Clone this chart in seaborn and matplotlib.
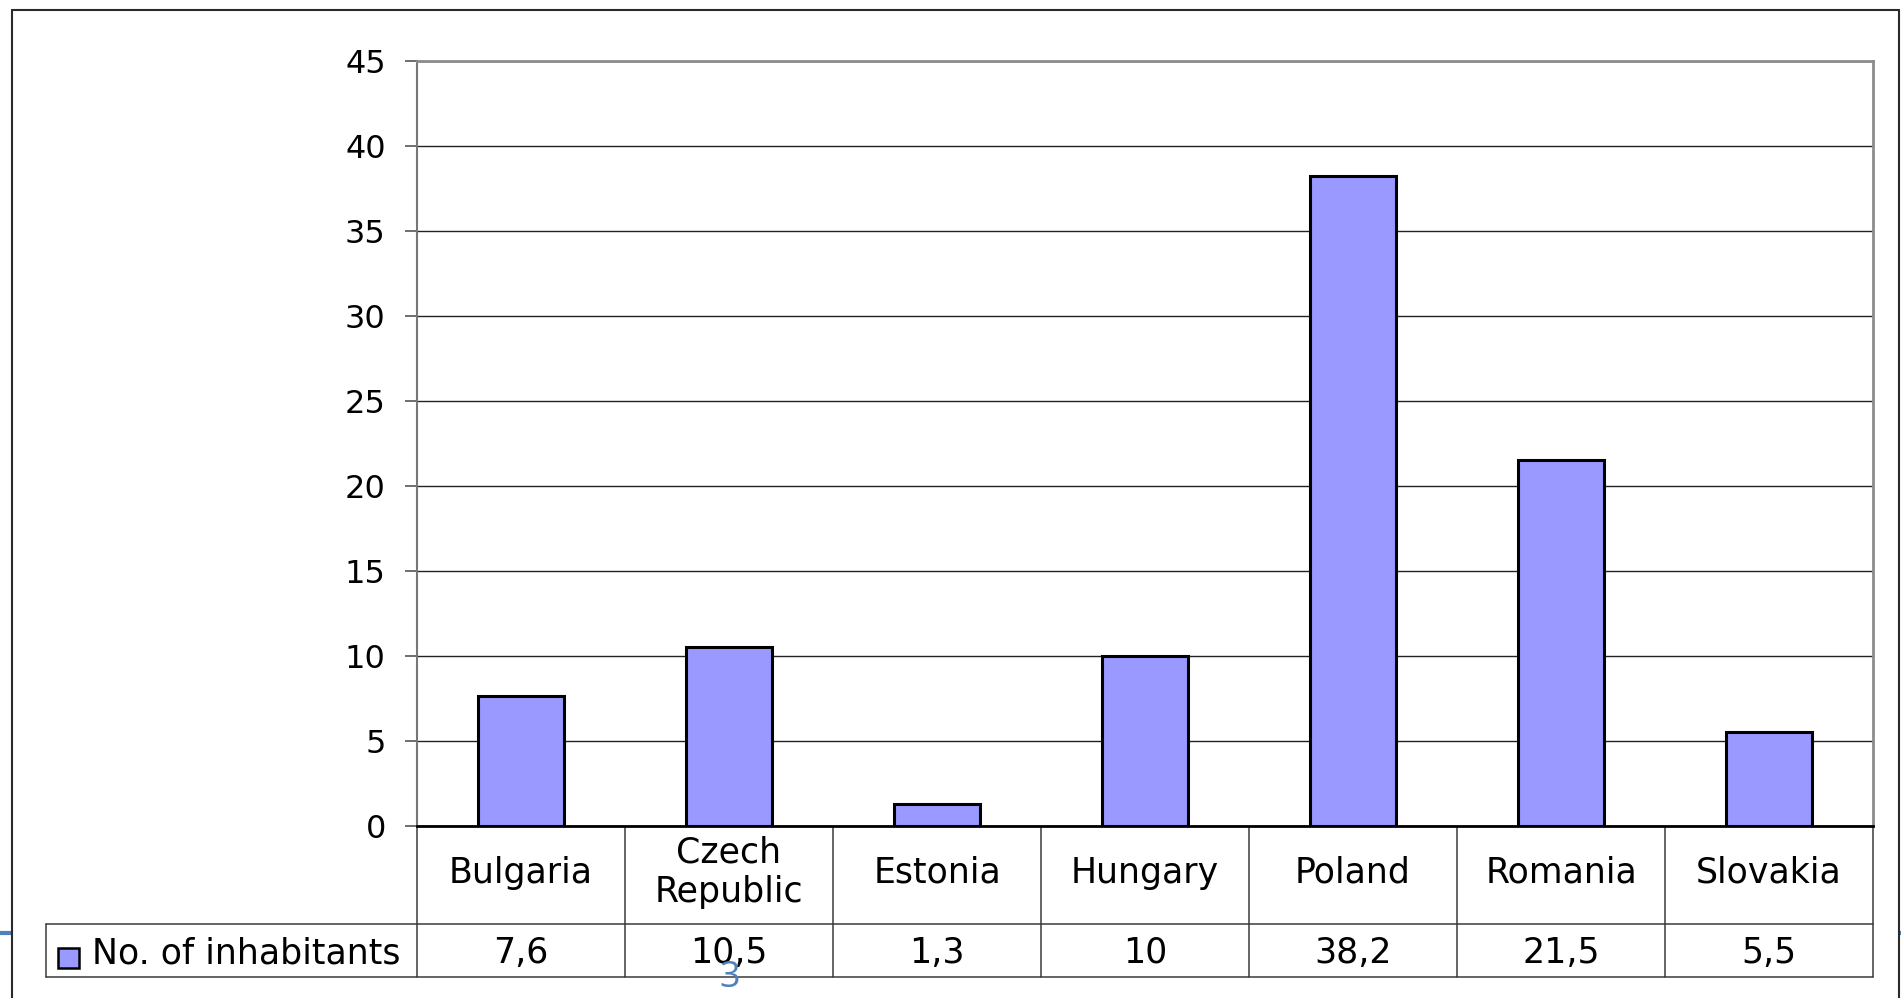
import matplotlib
matplotlib.use("Agg")
import matplotlib.pyplot as plt
from matplotlib.lines import Line2D
from matplotlib.patches import Rectangle
import seaborn as sns
import pandas as pd

# Population by country (millions)
countries = ["Bulgaria", "Czech\nRepublic", "Estonia", "Hungary", "Poland", "Romania", "Slovakia"]
inhabitants = [7.6, 10.5, 1.3, 10, 38.2, 21.5, 5.5]
series_name = "No. of inhabitants"
y_ticks = [0, 5, 10, 15, 20, 25, 30, 35, 40, 45]
page_number = "3"

BAR_COLOR = "#9999FF"
W, H = 1901, 998
TEXT_SIZE = 25

sns.set_theme(style="white")
plt.rcParams["font.family"] = ["DejaVu Sans"]
plt.rcParams["text.color"] = "black"
plt.rcParams["ytick.labelcolor"] = "black"

df = pd.DataFrame({"country": countries, "value": inhabitants})

fig = plt.figure(figsize=(W / 100, H / 100), dpi=100)
fig.patch.set_facecolor("white")

ax_left, ax_right, ax_top, ax_bottom = 417, 1873, 60.6, 825.6
ax = fig.add_axes([ax_left / W, 1 - ax_bottom / H,
                   (ax_right - ax_left) / W, (ax_bottom - ax_top) / H])

sns.barplot(data=df, x="country", y="value", color=BAR_COLOR, saturation=1,
            edgecolor="black", linewidth=2.2, width=0.41, ax=ax, zorder=3)

ax.set_xlim(-0.5, len(countries) - 0.5)
ax.set_ylim(0, 45)
ax.set_yticks(y_ticks)
ax.set_yticklabels([str(t) for t in y_ticks], fontsize=23, color="black")
ax.set_xticks([])
ax.set_xlabel("")
ax.set_ylabel("")
ax.tick_params(axis="y", which="major", left=True, length=8.5, width=1.2,
               color="#555555", pad=14, labelcolor="black")
ax.yaxis.grid(True, color="#222222", linewidth=1.0, zorder=0)
ax.set_axisbelow(True)

for side in ("top", "right", "left"):
    ax.spines[side].set_color("#8c8c8c")
    ax.spines[side].set_linewidth(2.0)
ax.spines["left"].set_color("#777777")
ax.spines["left"].set_linewidth(1.5)
ax.spines["bottom"].set_color("black")
ax.spines["bottom"].set_linewidth(2.0)
ax.spines["bottom"].set_zorder(4)

# Data table under the chart
axes_h = ax_bottom - ax_top
axes_w = ax_right - ax_left
y_row1 = -(924 - ax_bottom) / axes_h
y_row2 = -(977 - ax_bottom) / axes_h
x_legend = -0.5 + (46 - ax_left) / axes_w * len(countries)
trans = ax.get_xaxis_transform()
line_kw = dict(color="#3a3a3a", linewidth=1.1, transform=trans, clip_on=False)

n = len(countries)
for i in range(n + 1):
    ax.add_line(Line2D([i - 0.5, i - 0.5], [y_row2, 0], **line_kw))
ax.add_line(Line2D([x_legend, x_legend], [y_row2, y_row1], **line_kw))
for yy in (y_row1, y_row2):
    ax.add_line(Line2D([x_legend, n - 0.5], [yy, yy], **line_kw))

for i, (name, val) in enumerate(zip(countries, inhabitants)):
    ax.text(i, y_row1 / 2 + 0.003, name, transform=trans, ha="center", va="center",
            fontsize=TEXT_SIZE, linespacing=1.2, clip_on=False, color="black")
    ax.text(i, (y_row1 + y_row2) / 2 - 0.003, f"{val:g}".replace(".", ","),
            transform=trans, ha="center", va="center", fontsize=TEXT_SIZE,
            clip_on=False, color="black")

# Legend key inside the first table cell
fig.patches.append(Rectangle((58 / W, 1 - 968 / H), 21 / W, 20 / H,
                             transform=fig.transFigure, facecolor=BAR_COLOR,
                             edgecolor="black", linewidth=1.8, zorder=5))
fig.text(92 / W, 1 - 953 / H, series_name, ha="left", va="center",
         fontsize=TEXT_SIZE, color="black")

# Slide frame and decoration
frame_kw = dict(color="#2a2a2a", linewidth=1.5, transform=fig.transFigure)
fig.lines.append(Line2D([12 / W, 12 / W], [0, 1 - 10 / H], **frame_kw))
fig.lines.append(Line2D([12 / W, 1899 / W], [1 - 10 / H, 1 - 10 / H], **frame_kw))
fig.lines.append(Line2D([1899 / W, 1899 / W], [0, 1 - 10 / H], **frame_kw))
blue_kw = dict(color="#4F81BD", linewidth=3, transform=fig.transFigure, zorder=0)
fig.lines.append(Line2D([0, 11 / W], [1 - 933 / H, 1 - 933 / H], **blue_kw))
fig.lines.append(Line2D([1900 / W, 1], [1 - 933 / H, 1 - 933 / H], **blue_kw))

fig.text(730 / W, 1 - 978 / H, page_number, ha="center", va="center",
         fontsize=26, color="#4F81BD", family=["Open Sans", "DejaVu Sans"], zorder=6)

fig.savefig("out.png", dpi=100, facecolor="white")
